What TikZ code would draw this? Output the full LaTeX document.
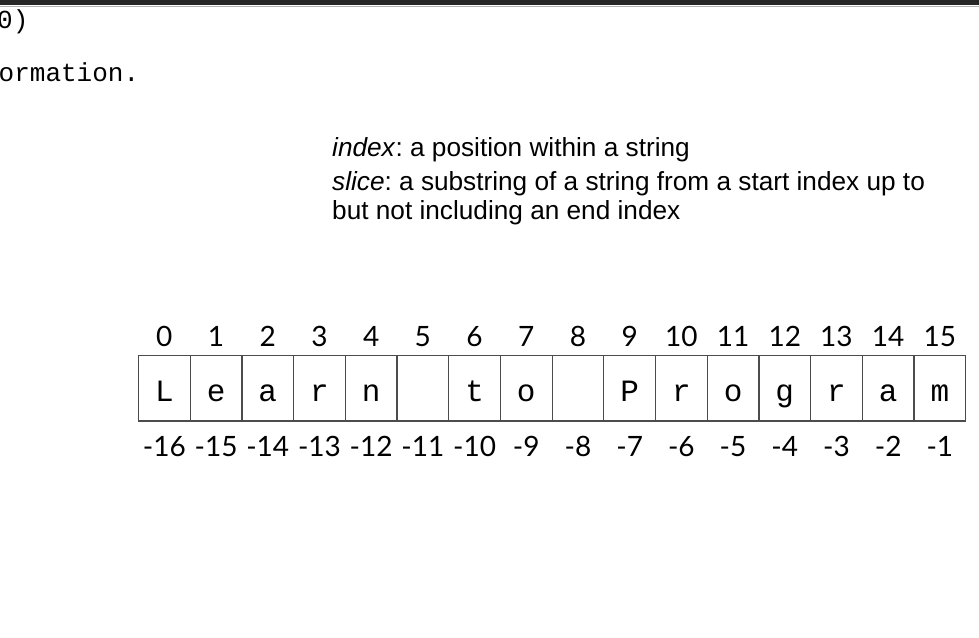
\documentclass[tikz,border=0pt]{standalone}
\usepackage{fontspec}
\setmainfont{Liberation Sans}
\setmonofont{Liberation Mono}
\newfontfamily\numfont{Lato}
\usetikzlibrary{positioning}

\tikzset{
  cell/.style={draw=black!70, line width=1.2pt, minimum width=51.7pt,
    minimum height=65.5pt, inner sep=0pt, text height=25.5pt, text depth=0pt,
    font=\ttfamily\fontsize{31}{31}\selectfont},
  idx/.style={anchor=base, inner sep=0pt, font=\numfont\fontsize{28}{28}\selectfont},
  deftext/.style={anchor=base west, inner sep=0pt, font=\fontsize{26.2}{29}\selectfont\frenchspacing},
  codetext/.style={anchor=base west, inner sep=0pt, font=\ttfamily\fontsize{26}{29}\selectfont}
}

\begin{document}
\begin{tikzpicture}[x=1pt,y=-1pt]
  \useasboundingbox (0,0) rectangle (979,637);
  \clip (0,0) rectangle (979,637);
  \fill[white] (0,0) rectangle (979,637);
  % strip at the top of the page
  \fill[black!85] (0,0) rectangle (979,4.5);
  \draw[black!30, line width=1pt] (0,6) -- (979,6);
  \node[codetext] (code1) at (-3,28) {0)};
  \node[codetext] (code2) at (-1.5,81.7) {ormation.};
  % definitions
  \node[deftext] (indexdef) at (332,156) {\textit{index}: a position within a string};
  \node[deftext] (slicedef) at (332,190) {\textit{slice}: a substring of a string from a start index up to};
  \node[deftext] (slicemore) at (332,219) {but not including an end index};
  % the string, one cell per character
  \foreach \ch [count=\i from 0] in {L,e,a,r,n,{},t,o,{},P,r,o,g,r,a,m} {
    \node[cell] (c\i) at (164.35+51.7*\i,388.25) {\ch};
    \node[idx] (pos\i) at ([yshift=8pt]c\i.north) {\i};
    \pgfmathtruncatemacro\neg{\i-16}
    \node[idx] (neg\i) at ([yshift=-34.5pt]c\i.south) {\neg};
  }
\end{tikzpicture}
\end{document}
